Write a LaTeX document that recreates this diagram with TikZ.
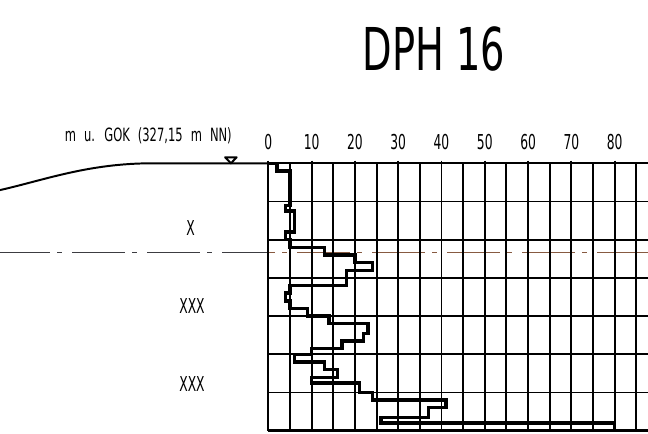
\documentclass[tikz,border=0pt]{standalone}
\usepackage{fontspec}
\newfontfamily\isofont{DejaVu Sans}[FakeStretch=0.6]
\newfontfamily\titlefont{DejaVu Sans}[FakeStretch=0.65]
\newfontfamily\gokfont{DejaVu Sans}[FakeStretch=0.63,WordSpace=2.2]
\definecolor{waterbrown}{RGB}{135,90,65}
\definecolor{watergray}{RGB}{60,60,65}

\begin{document}
\begin{tikzpicture}[
        gridline/.style={line width=1.4pt},
        profile/.style={line width=2.4pt},
        dashdot/.style={line width=1pt, dash pattern=on 37.7pt off 5pt on 3.6pt off 7.1pt},
        lbl/.style={inner sep=0pt, font=\isofont\fontsize{14.6}{16}\selectfont}]
    \useasboundingbox (-6.7075,4.0825) rectangle (9.4925,-6.7425);

    \node[inner sep=0pt, font=\titlefont\fontsize{42}{44}\selectfont] (title) at (4.14,2.85) {DPH 16};
    \node[inner sep=0pt, font=\gokfont\fontsize{13}{15}\selectfont] (gok) at (-3.0,0.695) {m u. GOK (327,15 m NN)};

    % Gelaende
    \draw[gridline] (-6.71,-0.67) .. controls (-5.6,-0.42) and (-4.5,0) .. (-2.9,0) -- (0,0);
    \draw[line width=1.4pt, fill=white, line join=round] (-1.08,0.15) -- (-0.79,0.15) -- (-0.935,0) -- cycle;

    \node[lbl] (lay1) at (-1.945,-1.6175) {X};
    \node[lbl] (lay2) at (-1.9075,-3.5675) {XXX};
    \node[lbl] (lay3) at (-1.9075,-5.5175) {XXX};

    % Wasserstand
    \draw[dashdot, watergray, dash phase=2.13pt] (-6.7075,-2.225) -- (0,-2.225);
    \draw[dashdot, waterbrown, dash phase=32.9pt] (0,-2.225) -- (9.4925,-2.225);

    \begin{scope}[x=0.10825cm, y=-0.955cm]
        \foreach \v in {0,5,...,85}
            \draw[gridline] (\v,0) -- (\v,7);
        \foreach \v in {0,10,...,80} {
            \draw[gridline] (\v,-0.07) -- (\v,0);
            \node[lbl] (t\v) at (\v,-0.545) {\v};
        }
        \foreach \d in {0,...,6}
            \draw[gridline] (0,\d) -- (88,\d);
        \draw[profile] (0,7) -- (88,7);

        \draw[profile] (0,0) -| (2,0.2) -| (5,1.1) -| (4,1.25) -| (6,1.8) -| (4,2.0)
            -| (5,2.2) -| (13,2.4) -| (20,2.6) -| (24,2.8) -| (18,3.2) -| (5,3.4)
            -| (4,3.6) -| (5,3.8) -| (9,4.0) -| (14,4.2) -| (23,4.45) -| (22,4.65)
            -| (17,4.85) -| (10,5.0) -| (6,5.2) -| (13,5.4) -| (16,5.6) -| (10,5.75)
            -| (21,6.0) -| (24,6.2) -| (41,6.4) -| (37,6.65) -| (26,6.8) -| (80,7.0);
    \end{scope}
\end{tikzpicture}
\end{document}
